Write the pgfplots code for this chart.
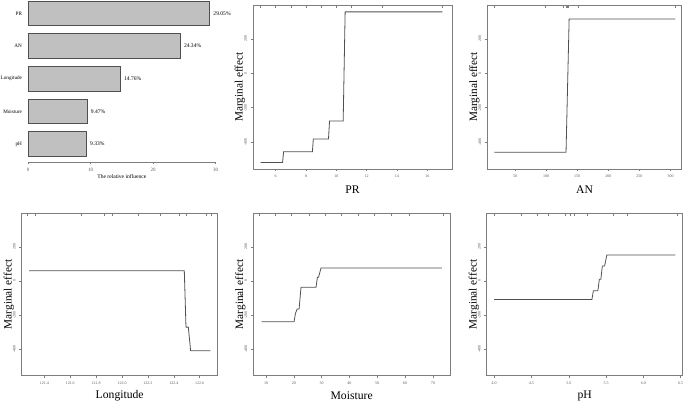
\documentclass[border=0pt]{standalone}
\usepackage{fontspec}
\setmainfont{Liberation Serif}
\usepackage{pgfplots}
\pgfplotsset{compat=1.18}
\definecolor{barfill}{RGB}{192,192,192}
\definecolor{bardraw}{RGB}{80,80,80}
\definecolor{curvecol}{RGB}{80,80,80}
\definecolor{boxcol}{RGB}{125,125,125}
\definecolor{tlcol}{RGB}{90,90,90}
\pgfdeclareplotmark{rug}{\pgfpathmoveto{\pgfqpoint{0pt}{0pt}}\pgfpathlineto{\pgfqpoint{0pt}{-3pt}}\pgfusepathqstroke}
\pgfplotsset{
  me/.style={
    scale only axis, anchor=south west,
    ymin=-556, ymax=397, ytick={-400,-200,0,200},
    axis line style={draw=boxcol, line width=0.7bp},
    tick align=outside, xtick pos=left, ytick pos=left,
    major tick length=2.5bp,
    tick style={draw=boxcol, line width=0.5bp},
    ticklabel style={font=\fontsize{4}{4.5}\selectfont, text=tlcol},
    yticklabel style={rotate=90, anchor=south},
    /pgf/number format/assume math mode=true,
    every axis y label/.style={at={(axis description cs:-0.066,0.5)}, rotate=90, anchor=center, font=\fontsize{11.3}{12}\selectfont},
    every axis x label/.style={at={(axis description cs:0.5,-0.125)}, anchor=center, font=\fontsize{11.7}{12}\selectfont},
    ylabel={Marginal effect},
  },
  curve/.style={draw=curvecol, line width=0.8bp},
  rugs/.style={only marks, mark=rug, mark options={draw=boxcol, line width=0.55bp}},
}
\begin{document}
\begin{tikzpicture}
\useasboundingbox (0,0) rectangle (685bp,403bp);

% relative influence bar chart
\begin{axis}[
  at={(28bp,241bp)}, anchor=south west, scale only axis,
  width=187.7bp, height=162bp,
  xbar, xmin=0, xmax=30, ymin=-0.552, ymax=4.414,
  bar width=24.5bp,
  ytick={0,1,2,3,4}, yticklabels={pH,Moisture,Longitude,AN,PR},
  xtick={0,10,20,30},
  axis x line*=bottom, axis y line*=left,
  y axis line style={draw=none}, ytick style={draw=none},
  x axis line style={draw=boxcol, line width=0.6bp},
  xtick style={draw=boxcol, line width=0.5bp},
  tick align=outside, major tick length=2.5bp,
  /pgf/number format/assume math mode=true,
  xticklabel style={font=\fontsize{5}{6}\selectfont, text=tlcol},
  yticklabel style={font=\fontsize{5.2}{6}\selectfont, text=black},
  xlabel={The relative influence},
  every axis x label/.style={at={(axis description cs:0.5,0)}, yshift=-14.7bp, anchor=center, font=\fontsize{5.6}{6}\selectfont},
  nodes near coords, point meta=explicit symbolic,
  nodes near coords style={anchor=west, font=\fontsize{5.6}{6}\selectfont},
]
\addplot[fill=barfill, draw=bardraw, line width=0.8bp] coordinates {
  (9.33,0) [9.33\%]
  (9.47,1) [9.47\%]
  (14.76,2) [14.76\%]
  (24.34,3) [24.34\%]
  (29.05,4) [29.05\%]
};
\end{axis}

% PR
\begin{axis}[me, at={(253bp,234bp)}, width=199bp, height=164bp,
  xmin=4.5, xmax=17.63, xtick={6,8,10,12,14,16}, xlabel={PR}]
\addplot[curve] coordinates {(5.0,-518) (6.45,-518) (6.52,-456) (8.42,-456) (8.48,-382) (9.48,-382) (9.55,-277) (10.45,-277) (10.58,357) (17.0,357)};
\addplot[rugs] coordinates {(5,397) (6,397) (7,397) (8,397) (9,397) (10,397) (11,397) (13,397) (17,397)};
\end{axis}

% AN
\begin{axis}[me, at={(487.3bp,234bp)}, width=194.4bp, height=164bp,
  xmin=5.4, xmax=318, xtick={50,100,150,200,250,300}, xlabel={AN}]
\addplot[curve] coordinates {(16.7,-459) (132,-459) (137,316) (308,316)};
\addplot[rugs] coordinates {(16.7,397) (98,397) (127,397) (132,397) (133,397) (134,397) (135,397) (136,397) (151,397) (308,397)};
\end{axis}

% Longitude
\begin{axis}[me, at={(21.7bp,27.3bp)}, width=196bp, height=162.4bp,
  xmin=121.225, xmax=122.739, xtick={121.4,121.6,121.8,122.0,122.2,122.4,122.6},
  xticklabel style={/pgf/number format/.cd, fixed, fixed zerofill, precision=1},
  xlabel={Longitude}]
\addplot[curve] coordinates {(121.282,60) (122.481,60) (122.494,-271) (122.512,-271) (122.53,-410) (122.682,-410)};
\addplot[rugs] coordinates {(121.269,397) (121.331,397) (121.686,397) (121.866,397) (121.925,397) (122.124,397) (122.299,397) (122.445,397) (122.497,397) (122.651,397) (122.690,397)};
\end{axis}

% Moisture
\begin{axis}[me, at={(253.3bp,27.3bp)}, width=196.7bp, height=162.4bp,
  xmin=5.43, xmax=76.2, xtick={10,20,30,40,50,60,70}, xlabel={Moisture}]
\addplot[curve] coordinates {(8.45,-240) (20.1,-240) (20.6,-190) (21.2,-165) (21.9,-165) (22.6,-37) (28.0,-37) (28.5,22) (28.9,22) (29.8,76) (73.3,76)};
\addplot[rugs] coordinates {(7.6,397) (13.2,397) (19.0,397) (25.6,397) (31.2,397) (37.2,397) (43.2,397) (48.8,397) (55.2,397) (61.5,397) (73.8,397)};
\end{axis}

% pH
\begin{axis}[me, at={(486.7bp,27.3bp)}, width=196bp, height=162.4bp,
  xmin=3.90, xmax=6.527, xtick={4.0,4.5,5.0,5.5,6.0,6.5},
  xticklabel style={/pgf/number format/.cd, fixed, fixed zerofill, precision=1},
  xlabel={pH}]
\addplot[curve] coordinates {(4.0,-109) (5.31,-109) (5.33,-57) (5.39,-57) (5.41,10) (5.43,10) (5.45,88) (5.48,88) (5.51,152) (6.43,152)};
\addplot[rugs] coordinates {(4.0,397) (4.36,397) (4.58,397) (4.72,397) (4.95,397) (5.02,397) (5.08,397) (5.25,397) (5.59,397) (5.79,397) (6.45,397)};
\end{axis}
\end{tikzpicture}
\end{document}
